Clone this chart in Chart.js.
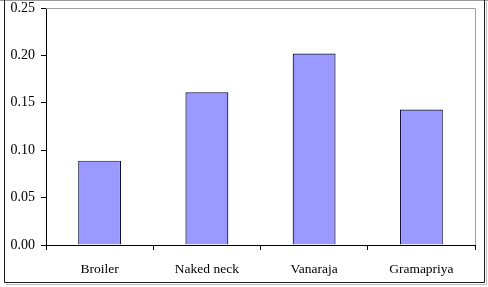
<!DOCTYPE html>
<html><head><meta charset="utf-8">
<script src="https://cdn.jsdelivr.net/npm/chart.js@4/dist/chart.umd.min.js"></script>
<style>html,body{margin:0;padding:0;background:#fff;}#wrap{width:488px;height:287px;position:relative;}</style>
</head><body><div id="wrap"><canvas id="c" width="488" height="287"></canvas></div>
<script>
const categories = ["Broiler", "Naked neck", "Vanaraja", "Gramapriya"];
const values = [0.089, 0.161, 0.202, 0.143];
const yTicks = [0, 0.05, 0.10, 0.15, 0.20, 0.25];

const frame = {
  id: 'frame',
  afterDraw(chart) {
    const ctx = chart.ctx, a = chart.chartArea;
    ctx.save();
    ctx.strokeStyle = '#a0a0a0'; ctx.lineWidth = 1;
    ctx.beginPath();
    ctx.moveTo(a.left, a.top + 0.5); ctx.lineTo(a.right + 0.5, a.top + 0.5);
    ctx.lineTo(a.right + 0.5, a.bottom);
    ctx.stroke();
    ctx.strokeStyle = '#9a9a9a';
    ctx.beginPath(); ctx.moveTo(0, 0.5); ctx.lineTo(488, 0.5); ctx.stroke();
    ctx.strokeStyle = '#1a1a1a';
    ctx.beginPath();
    ctx.moveTo(4.5, 0); ctx.lineTo(4.5, 282.5); ctx.lineTo(484.5, 282.5); ctx.lineTo(484.5, 0);
    ctx.stroke();
    ctx.strokeStyle = '#bdbdbd';
    ctx.beginPath();
    ctx.moveTo(6, 284.5); ctx.lineTo(486.5, 284.5); ctx.lineTo(486.5, 2);
    ctx.stroke();
    ctx.restore();
  }
};

new Chart(document.getElementById('c'), {
  type: 'bar',
  data: { labels: categories, datasets: [{ data: values, backgroundColor: '#9999FF', borderColor: '#101040', borderWidth: 1.2, categoryPercentage: 1, barPercentage: 0.4 }] },
  options: {
    responsive: false, animation: false, devicePixelRatio: 1,
    layout: { padding: { top: 8, right: 13, left: 0, bottom: 0 } },
    plugins: { legend: { display: false }, tooltip: { enabled: false } },
    scales: {
      x: {
        grid: { display: true, drawOnChartArea: false, tickLength: 5, color: '#000', offset: true },
        border: { color: '#000' },
        ticks: { color: '#000', font: { family: 'Liberation Serif', size: 13.5 }, padding: 11, maxRotation: 0 },
        afterFit(s) { s.height = 42; s.paddingLeft = 0; s.paddingRight = 0; }
      },
      y: {
        min: 0, max: 0.25,
        afterBuildTicks(s) { s.ticks = yTicks.map(v => ({ value: v })); },
        grid: { display: true, drawOnChartArea: false, tickLength: 5, color: '#000' },
        border: { color: '#000' },
        ticks: { color: '#000', font: { family: 'Liberation Serif', size: 14 }, padding: 6, callback: v => Number(v).toFixed(2) },
        afterFit(s) { s.width = 46; s.paddingTop = 0; s.paddingBottom = 0; }
      }
    }
  },
  plugins: [frame]
});
</script></body></html>
